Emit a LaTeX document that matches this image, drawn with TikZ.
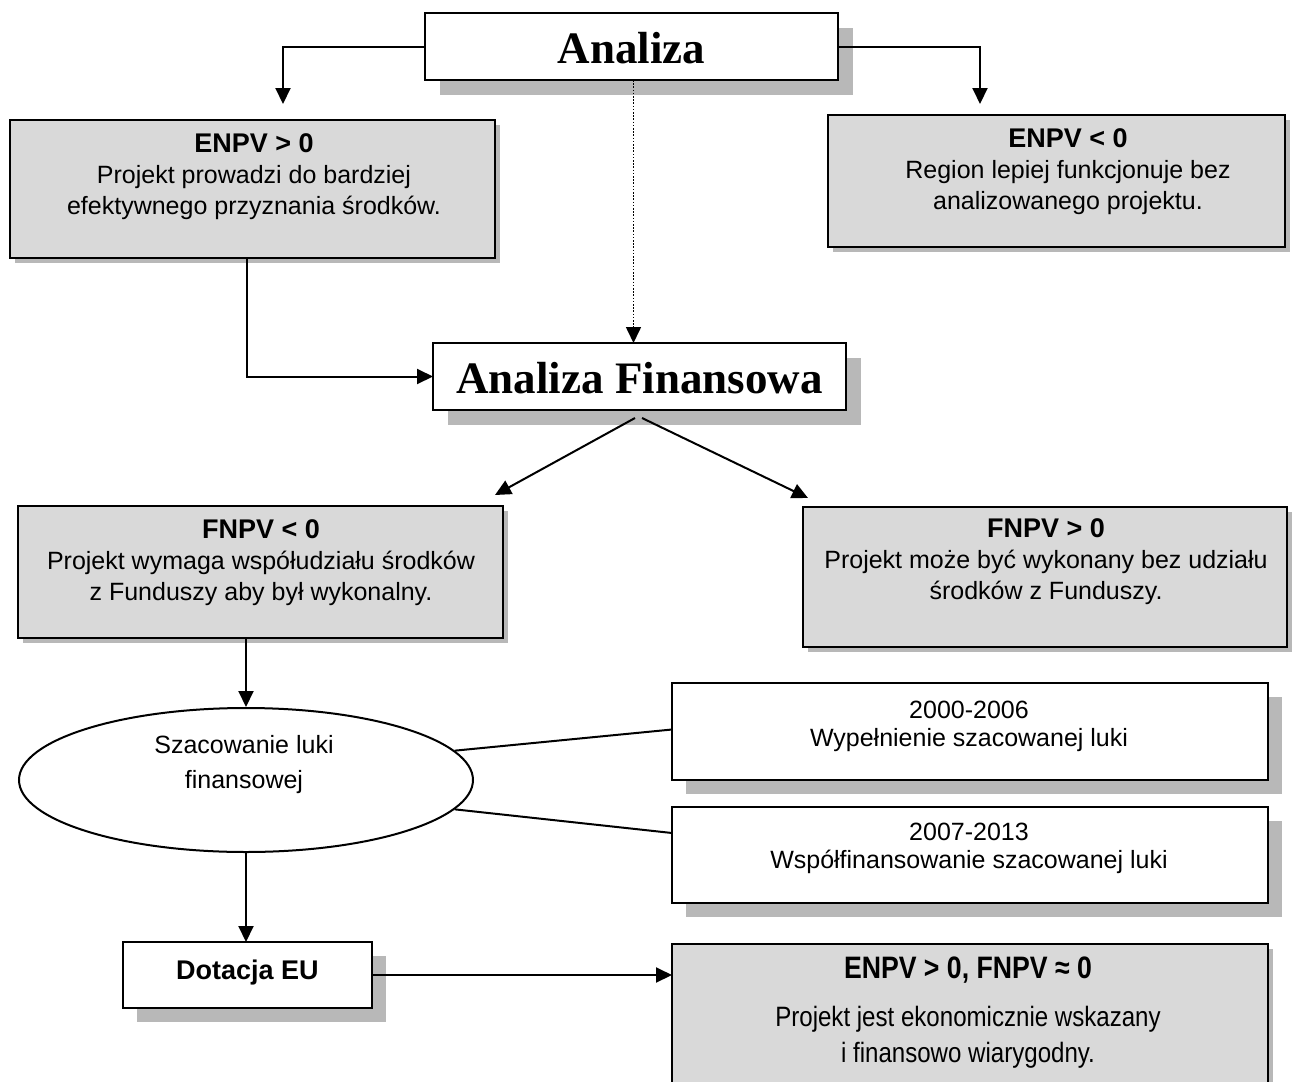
\documentclass[tikz,border=0pt]{standalone}
\usepackage{fontspec}
\setmainfont{Liberation Sans}
\newfontfamily\titleserif{Liberation Serif}
\newfontfamily\narrowsans[FakeStretch=0.86]{Liberation Sans}
\usetikzlibrary{arrows.meta,shapes.geometric,shadows}
\begin{document}
\begin{tikzpicture}[x=1pt,y=-1pt,
  box/.style={draw, line width=2pt, anchor=north west, inner sep=0pt, outer sep=0pt},
  gbox/.style={box, fill=black!15},
  wbox/.style={box, fill=white},
  shd/.style={general shadow={fill=black!28, shadow xshift=#1pt, shadow yshift=-#1pt}},
  arr/.style={line width=2pt, -{Triangle[length=16pt,width=15pt]}},
  ln/.style={line width=2pt},
  body/.style={align=center, inner sep=0pt, font=\fontsize{25}{31}\selectfont},
  bodyb/.style={align=center, inner sep=0pt, font=\fontsize{25}{28}\selectfont},
  big/.style={inner sep=0pt, font=\titleserif\fontsize{45}{50}\selectfont\bfseries},
  ttl/.style={font=\fontsize{27}{31}\selectfont\bfseries}
]
\useasboundingbox (0,0) rectangle (1294,1082);

% boxes
\node[wbox, shd=15, minimum width=413, minimum height=67] (ana) at (425,13) {};
\node[big] (anaT) at (631.5,48) {Analiza};

\node[gbox, shd=5, minimum width=485, minimum height=138] (enp) at (10,120) {};
\node[body] (enpT) at (254,177) {{\fontsize{27}{31}\selectfont\bfseries ENPV > 0}\\Projekt prowadzi do bardziej\\efektywnego przyznania środków.};

\node[gbox, shd=5, minimum width=457, minimum height=132] (enn) at (828,115) {};
\node[body] (ennT) at (1068,172) {{\fontsize{27}{31}\selectfont\bfseries ENPV < 0}\\Region lepiej funkcjonuje bez\\analizowanego projektu.};

\node[wbox, shd=15, minimum width=413, minimum height=67] (af) at (433,343) {};
\node[big] (afT) at (639.5,378) {Analiza Finansowa};

\node[gbox, shd=5, minimum width=485, minimum height=132] (fnn) at (18,506) {};
\node[body] (fnnT) at (261,563) {{\fontsize{27}{31}\selectfont\bfseries FNPV < 0}\\Projekt wymaga współudziału środków\\z Funduszy aby był wykonalny.};

\node[gbox, shd=5, minimum width=484, minimum height=140] (fnp) at (803,507) {};
\node[body] (fnpT) at (1046,562) {{\fontsize{27}{31}\selectfont\bfseries FNPV > 0}\\Projekt może być wykonany bez udziału\\środków z Funduszy.};

\node[ellipse, draw, line width=2pt, fill=white, minimum width=454, minimum height=144, inner sep=0pt] (ell) at (246,780) {};
\node[body, font=\fontsize{25}{35}\selectfont] (ellT) at (244,765) {Szacowanie luki\\finansowej};

\node[wbox, shd=14, minimum width=596, minimum height=97] (b1) at (672,683) {};
\node[bodyb] (b1T) at (969,726) {2000-2006\\Wypełnienie szacowanej luki};

\node[wbox, shd=14, minimum width=596, minimum height=96] (b2) at (672,807) {};
\node[bodyb] (b2T) at (969,848) {2007-2013\\Współfinansowanie szacowanej luki};

\node[wbox, shd=14, minimum width=249, minimum height=66] (dot) at (123,942) {};
\node[ttl, inner sep=0pt] (dotT) at (247.5,973) {Dotacja EU};

\node[gbox, shd=5, minimum width=596, minimum height=160] (fin) at (672,944) {};
\node[inner sep=0pt, font=\narrowsans\fontsize{31}{36}\selectfont\bfseries] (finH) at (968,970) {ENPV > 0, FNPV ≈ 0};
\node[inner sep=0pt, align=center, font=\narrowsans\fontsize{28}{36}\selectfont] (finT) at (968,1037) {Projekt jest ekonomicznie wskazany\\i finansowo wiarygodny.};

% connector ends
\coordinate (c1) at (283,104);
\coordinate (c2) at (980,104);
\coordinate (afb) at (638,418);
\coordinate (l1) at (495,495);
\coordinate (r1) at (808,498);

% connectors
\draw[arr] (ana.west) -| (c1);
\draw[arr] (ana.east) -| (c2);
\draw[arr, line width=1.6pt, dash pattern=on 1.6pt off 1.6pt] ([xshift=2pt]ana.south) -- ([xshift=2pt]ana.south |- af.north);
\draw[arr] ([xshift=-6pt]enp.south) |- (af.west);
\draw[arr] ([xshift=-3pt]afb) -- (l1);
\draw[arr] ([xshift=4pt]afb) -- (r1);
\draw[arr] (ell.north |- fnn.south) -- (ell.north);
\draw[ln] (ell.8) -- ([yshift=2pt]b1.west);
\draw[ln] (ell.-8) -- ([yshift=22pt]b2.west);
\draw[arr] (ell.south) -- (ell.south |- dot.north);
\draw[arr] (dot.east) -- (dot.east -| fin.west);
\end{tikzpicture}
\end{document}
